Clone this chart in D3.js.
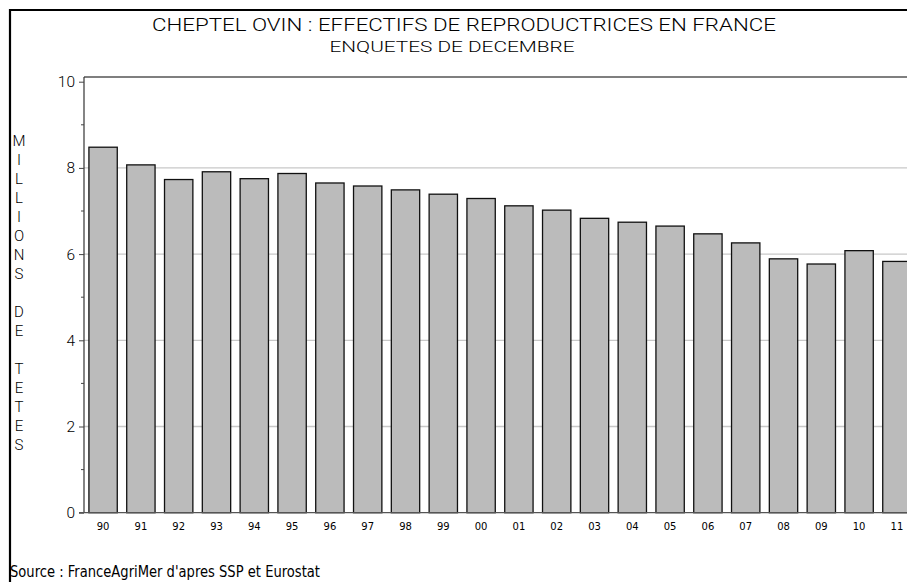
<!DOCTYPE html>
<html>
<head>
<meta charset="utf-8">
<script src="https://cdn.jsdelivr.net/npm/d3@7"></script>
<style>
  body { margin: 0; background: #fff; }
  svg { display: block; }
  text { font-family: Roboto, "Liberation Sans", Arial, sans-serif; fill: #000; }
</style>
</head>
<body>
<svg width="907" height="582"></svg>
<script>
// data (millions of head, december surveys)
var years = ["90","91","92","93","94","95","96","97","98","99","00","01","02","03","04","05","06","07","08","09","10","11"];
var ewes = [8.48, 8.07, 7.73, 7.91, 7.75, 7.87, 7.65, 7.58, 7.49, 7.39, 7.29, 7.12, 7.02, 6.83, 6.74, 6.65, 6.47, 6.26, 5.89, 5.77, 6.08, 5.83];
var yTicks = [0, 2, 4, 6, 8, 10];
var yMinor = [1, 3, 5, 7, 9];
var yLabel = ["M","I","L","L","I","O","N","S","","D","E","","T","E","T","E","S"];

var svg = d3.select("svg");
var plotLeft = 84, plotTop = 77, plotBottom = 512.7;

var x = d3.scaleBand()
    .domain(years)
    .range([plotLeft, 916])
    .paddingInner(0.25)
    .paddingOuter(0.13);

var y = d3.scaleLinear()
    .domain([0, 10])
    .range([plotBottom, 81.7]);

// outer frame
svg.append("path")
    .attr("d", "M10,582V10H907")
    .attr("fill", "none")
    .attr("stroke", "#000")
    .attr("stroke-width", 2.2);

// titles
svg.append("text")
    .attr("x", 464).attr("y", 31)
    .attr("text-anchor", "middle")
    .attr("font-size", 19)
    .attr("textLength", 624).attr("lengthAdjust", "spacingAndGlyphs")
    .style("font-weight", 300)
    .text("CHEPTEL OVIN : EFFECTIFS DE REPRODUCTRICES EN FRANCE");

svg.append("text")
    .attr("x", 452).attr("y", 52)
    .attr("text-anchor", "middle")
    .attr("font-size", 14.5)
    .attr("textLength", 245).attr("lengthAdjust", "spacingAndGlyphs")
    .style("font-weight", 300)
    .text("ENQUETES DE DECEMBRE");

// grid
svg.append("g")
    .selectAll("line")
    .data([2, 4, 6, 8])
    .enter().append("line")
    .attr("x1", plotLeft).attr("x2", 907)
    .attr("y1", function(d) { return y(d); })
    .attr("y2", function(d) { return y(d); })
    .attr("stroke", "#c8c8c8")
    .attr("stroke-width", 1.3);

// bars
svg.append("g")
    .selectAll("rect")
    .data(ewes)
    .enter().append("rect")
    .attr("x", function(d, i) { return x(years[i]); })
    .attr("y", function(d) { return y(d); })
    .attr("width", x.bandwidth())
    .attr("height", function(d) { return plotBottom - y(d); })
    .attr("fill", "#bbbbbb")
    .attr("stroke", "#111")
    .attr("stroke-width", 1.3);

// plot frame top
svg.append("line")
    .attr("x1", plotLeft).attr("x2", 907)
    .attr("y1", plotTop).attr("y2", plotTop)
    .attr("stroke", "#000").attr("stroke-width", 1.2);

// y axis
var yAxis = svg.append("g")
    .attr("transform", "translate(" + plotLeft + ",0)")
    .call(d3.axisLeft(y).tickValues(yTicks).tickSize(5).tickPadding(4).tickFormat(d3.format("d")));
yAxis.select(".domain").attr("d", "M0," + plotTop + "V" + plotBottom).attr("stroke", "#333").attr("stroke-width", 1.2);
yAxis.selectAll(".tick line").attr("stroke", "#444");
yAxis.selectAll("text")
    .attr("font-size", 15.5)
    .style("font-family", "Roboto, 'Liberation Sans', sans-serif")
    .style("font-weight", 300);

svg.append("g")
    .selectAll("line")
    .data(yMinor)
    .enter().append("line")
    .attr("x1", plotLeft - 3).attr("x2", plotLeft)
    .attr("y1", function(d) { return y(d); })
    .attr("y2", function(d) { return y(d); })
    .attr("stroke", "#444");

// x axis
var xAxis = svg.append("g")
    .attr("transform", "translate(0," + plotBottom + ")")
    .call(d3.axisBottom(x).tickSize(0).tickPadding(10));
xAxis.select(".domain").attr("d", "M" + (plotLeft - 5) + ",0H907").attr("stroke", "#555").attr("stroke-width", 1.3);
xAxis.selectAll("text").attr("font-size", 10).style("font-family", "'DejaVu Sans', sans-serif");

// vertical axis title, one letter per row
svg.append("g")
    .selectAll("text")
    .data(yLabel)
    .enter().append("text")
    .attr("x", 19)
    .attr("y", function(d, i) { return 145.5 + i * 19.06; })
    .attr("text-anchor", "middle")
    .attr("font-size", 15)
    .style("font-weight", 300)
    .text(function(d) { return d; });

// source
svg.append("text")
    .attr("x", 10).attr("y", 577)
    .attr("font-size", 15)
    .attr("textLength", 310).attr("lengthAdjust", "spacingAndGlyphs")
    .style("font-family", "'DejaVu Sans', sans-serif")
    .text("Source : FranceAgriMer d'apres SSP et Eurostat");
</script>
</body>
</html>
